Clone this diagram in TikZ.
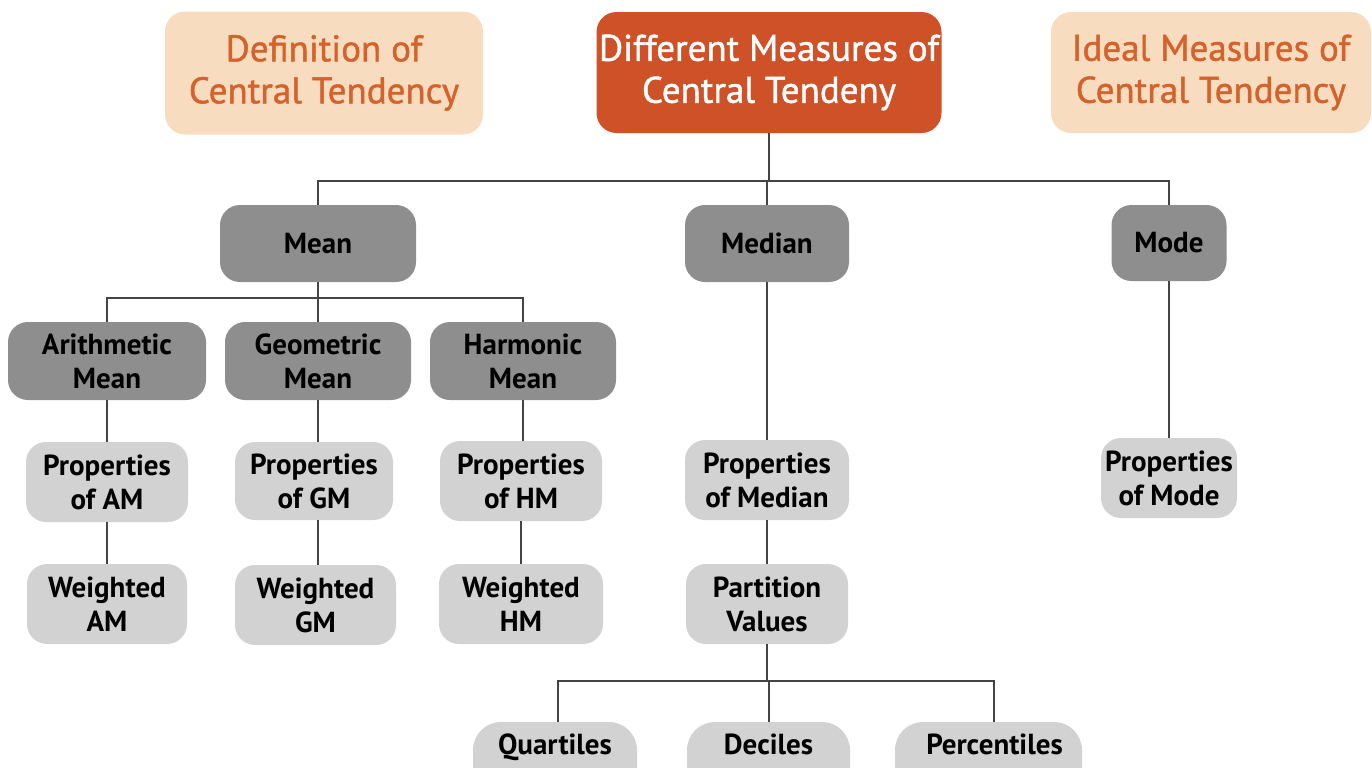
\documentclass[tikz,border=0pt]{standalone}
\usepackage{fontspec}
\setmainfont{PT Sans}
\newfontfamily\semib[FakeBold=1.2]{PT Sans}
\definecolor{peach}{HTML}{F8DCC0}
\definecolor{orangetxt}{HTML}{D4622A}
\definecolor{rootfill}{HTML}{CF5128}
\definecolor{darkgray}{HTML}{8E8E8E}
\definecolor{lightgray}{HTML}{D2D2D2}
\definecolor{linecol}{HTML}{444444}
\begin{document}
\begin{tikzpicture}[x=0.5pt,y=-0.5pt,
  base/.style={rounded corners=10pt, inner sep=0pt, align=center, text=black},
  topbox/.style={base, fill=peach, text=orangetxt, font=\semib\fontsize{18.5}{21}\selectfont},
  rootbox/.style={base, fill=rootfill, text=white, font=\semib\fontsize{18.5}{21}\selectfont},
  dbox/.style={base, fill=darkgray, font=\bfseries\fontsize{14.5}{17}\selectfont},
  lbox/.style={base, fill=lightgray, font=\bfseries\fontsize{14.5}{17}\selectfont},
  pill/.style={lbox, rounded corners=14pt, minimum height=40pt},
  conn/.style={draw=linecol, line width=1pt}]
\useasboundingbox (0,0) rectangle (1372,767);
\coordinate (j1) at (769,181);
\coordinate (j2) at (318,298);
\coordinate (j3) at (769,681);

% top row
\node[topbox, minimum width=159pt, minimum height=61.5pt] (def) at (324,73) {Definition of\\Central Tendency};
\node[rootbox, minimum width=172.5pt, minimum height=60.5pt] (diff) at (769,72.5) {Different Measures of\\Central Tendeny};
\node[topbox, minimum width=160pt, minimum height=60.5pt] (ideal) at (1211,72.5) {Ideal Measures of\\Central Tendency};

% second row
\node[dbox, minimum width=98pt, minimum height=38.5pt] (mean) at (318,243.5) {Mean};
\node[dbox, minimum width=82pt, minimum height=38.5pt] (median) at (767,243.5) {Median};
\node[dbox, minimum width=57.5pt, minimum height=38pt] (mode) at (1169,243) {Mode};

% third row
\node[dbox, minimum width=99pt, minimum height=39pt] (am) at (107,361) {Arithmetic\\Mean};
\node[dbox, minimum width=93pt, minimum height=39pt] (gm) at (318,361) {Geometric\\Mean};
\node[dbox, minimum width=93pt, minimum height=39pt] (hm) at (523,361) {Harmonic\\Mean};

% properties row
\node[lbox, minimum width=81pt, minimum height=40pt] (pam) at (107,482) {Properties\\of AM};
\node[lbox, minimum width=79pt, minimum height=39pt] (pgm) at (314,481) {Properties\\of GM};
\node[lbox, minimum width=81pt, minimum height=40pt] (phm) at (521,481) {Properties\\of HM};
\node[lbox, minimum width=82pt, minimum height=40pt] (pmed) at (767,480) {Properties\\of Median};
\node[lbox, minimum width=68pt, minimum height=40pt] (pmode) at (1169,478) {Properties\\of Mode};

% weighted row
\node[lbox, minimum width=80pt, minimum height=40pt] (wam) at (107,604) {Weighted\\AM};
\node[lbox, minimum width=80.5pt, minimum height=40pt] (wgm) at (315.5,605) {Weighted\\GM};
\node[lbox, minimum width=82pt, minimum height=40pt] (whm) at (521,604) {Weighted\\HM};
\node[lbox, minimum width=81pt, minimum height=40pt] (pv) at (767,604) {Partition\\Values};

% bottom row (boxes run past the lower edge)
\node[pill, minimum width=82pt] (quart) at (555,762) {\raisebox{18pt}{Quartiles}};
\node[pill, minimum width=81.5pt] (dec) at (768.5,762) {\raisebox{18pt}{Deciles}};
\node[pill, minimum width=93.5pt] (perc) at (988.5,762) {\raisebox{18pt}{\hspace{6pt}Percentiles}};

% connectors
\draw[conn] (diff.south) -- (diff.south |- j1);
\draw[conn] (mean.north) |- (mode.north |- j1) -- (mode.north);
\draw[conn] (median.north) -- (median.north |- j1);

\draw[conn] (mean.south) -- (mean.south |- j2);
\draw[conn] (am.north) |- (hm.north |- j2) -- (hm.north);
\draw[conn] (gm.north) -- (gm.north |- j2);

\draw[conn] (am.south) -- (pam.north);
\draw[conn] (pam.south) -- (wam.north);
\draw[conn] (gm.south) -- (gm.south |- pgm.north);
\draw[conn] (gm.south |- pgm.south) -- (gm.south |- wgm.north);
\draw[conn] (hm.south) -- (hm.south |- phm.north);
\draw[conn] (phm.south) -- (whm.north);
\draw[conn] (median.south) -- (pmed.north);
\draw[conn] (pmed.south) -- (pv.north);
\draw[conn] (mode.south) -- (pmode.north);

\draw[conn] (pv.south) -- (pv.south |- j3);
\draw[conn] ([xshift=1.5pt]quart.north) |- (j3);
\draw[conn] (j3) -| ([xshift=2.75pt]perc.north);
\draw[conn] (dec.north) -- (dec.north |- j3);
\end{tikzpicture}
\end{document}
